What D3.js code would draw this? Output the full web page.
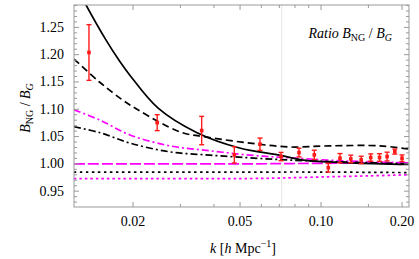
<!DOCTYPE html>
<html><head><meta charset="utf-8">
<script src="https://cdn.jsdelivr.net/npm/d3@7"></script>
<style>body{margin:0;background:#fff}svg{display:block}</style>
</head><body><svg id="c" width="419" height="259" font-family="'Liberation Serif','DejaVu Serif','Times New Roman',serif"></svg>
<script>
// ---- data ----
const solidK   = [0.0115, 0.01207, 0.01338, 0.0158, 0.0179, 0.0195, 0.0248, 0.0346, 0.0498, 0.0698, 0.0858, 0.128, 0.212];
const solidR   = [1.36, 1.333, 1.291, 1.2285, 1.187, 1.162, 1.102, 1.057, 1.029, 1.016, 1.007, 1.002, 0.999];
const dashK    = [0.01207, 0.0150, 0.0183, 0.0207, 0.0299, 0.0377, 0.0544, 0.0766, 0.108, 0.166, 0.2123];
const dashR    = [1.192, 1.150, 1.117, 1.100, 1.0585, 1.049, 1.038, 1.031, 1.033, 1.033, 1.027];
const ddotK    = [0.01207, 0.0151, 0.0195, 0.0274, 0.0386, 0.0544, 0.0766, 0.128, 0.2123];
const ddotR    = [1.068, 1.057, 1.038, 1.022, 1.016, 1.011, 1.007, 1.003, 1.000];
const mDdK     = [0.01207, 0.0151, 0.0195, 0.0274, 0.0386, 0.0544, 0.0766, 0.128, 0.2123];
const mDdR     = [1.099, 1.080, 1.053, 1.033, 1.024, 1.016, 1.011, 1.005, 1.002];
const mDashK   = [0.01207, 0.05, 0.1, 0.2123];
const mDashR   = [1.000, 1.000, 1.001, 1.002];
const dotK     = [0.01207, 0.05, 0.1, 0.2123];
const dotR     = [0.985, 0.985, 0.985, 0.984];
const mDotK    = [0.01207, 0.05, 0.07, 0.1, 0.15, 0.2123];
const mDotR    = [0.973, 0.973, 0.974, 0.976, 0.978, 0.980];
const ptK   = [0.01372, 0.0246, 0.036, 0.0476, 0.0593, 0.071, 0.0828, 0.0944, 0.1064, 0.1176, 0.129, 0.141, 0.153, 0.165, 0.176, 0.188, 0.200];
const ptR   = [1.204, 1.0755, 1.061, 1.0165, 1.036, 1.0134, 1.0207, 1.0165, 0.993, 1.0104, 1.009, 1.0073, 1.0116, 1.0116, 1.0134, 1.0225, 1.0104];
const ptErr = [0.051, 0.0146, 0.026, 0.0149, 0.0113, 0.0076, 0.008, 0.0085, 0.008, 0.0085, 0.007, 0.0067, 0.0067, 0.007, 0.008, 0.0046, 0.006];
const xMajor = [0.02, 0.05, 0.1, 0.2];
const xMajorLabels = ["0.02", "0.05", "0.10", "0.20"];
const xMinor = [0.03, 0.04, 0.06, 0.07, 0.08, 0.09, 0.15];
const yMajor = [0.95, 1.00, 1.05, 1.10, 1.15, 1.20, 1.25];
const yMajorLabels = ["0.95", "1.00", "1.05", "1.10", "1.15", "1.20", "1.25"];
const kMarker = 0.0714;

// ---- layout ----
const L = 74, R = 409, T = 5, B = 207;
const svg = d3.select("#c");
const x = d3.scaleLog().domain([0.01207, 0.2123]).range([L, R]);
const y = d3.scaleLinear().domain([0.921, 1.291]).range([B, T]);

svg.append("defs").append("clipPath").attr("id","clip")
  .append("rect").attr("x",L).attr("y",T).attr("width",R-L).attr("height",B-T);

svg.append("line").attr("x1",x(kMarker)).attr("x2",x(kMarker)).attr("y1",T).attr("y2",B)
  .attr("stroke","#e6e6e6").attr("stroke-width",1);

const g = svg.append("g").attr("clip-path","url(#clip)");
const line = d3.line().x(d=>x(d[0])).y(d=>y(d[1])).curve(d3.curveCatmullRom.alpha(0.5));
function curve(ks, rs, color, dash, w){
  g.append("path").datum(ks.map((k,i)=>[k, rs[i]])).attr("d", line)
    .attr("fill","none").attr("stroke",color).attr("stroke-width",w)
    .attr("stroke-dasharray",dash);
}
const MAG = "#ff00ff";
curve(mDotK, mDotR, MAG, "2.5,3", 1.7);
curve(dotK, dotR, "#000", "2.5,3.5", 1.7);
curve(mDashK, mDashR, MAG, "11,3", 1.7);
curve(mDdK, mDdR, MAG, "7,3,2,3", 1.7);
curve(ddotK, ddotR, "#000", "7,3,2,3", 1.7);
curve(dashK, dashR, "#000", "7,4", 1.7);
curve(solidK, solidR, "#000", null, 1.7);

const RED = "#ff1a1a";
const eb = g.append("g").attr("stroke",RED).attr("stroke-width",1.4);
ptK.forEach((k,i)=>{
  const cx = x(k), y1 = y(ptR[i]+ptErr[i]), y2 = y(ptR[i]-ptErr[i]);
  eb.append("line").attr("x1",cx).attr("x2",cx).attr("y1",y1).attr("y2",y2);
  eb.append("line").attr("x1",cx-2.5).attr("x2",cx+2.5).attr("y1",y1).attr("y2",y1);
  eb.append("line").attr("x1",cx-2.5).attr("x2",cx+2.5).attr("y1",y2).attr("y2",y2);
  g.append("rect").attr("x",cx-1.8).attr("y",y(ptR[i])-1.8).attr("width",3.6).attr("height",3.6)
    .attr("fill",RED);
});

const FR = "#999";
svg.append("rect").attr("x",L).attr("y",T).attr("width",R-L).attr("height",B-T)
  .attr("fill","none").attr("stroke",FR).attr("stroke-width",1);

const tk = svg.append("g").attr("stroke",FR).attr("stroke-width",1);
xMajor.forEach(k=>{
  const px = x(k);
  tk.append("line").attr("x1",px).attr("x2",px).attr("y1",B).attr("y2",B-5);
  tk.append("line").attr("x1",px).attr("x2",px).attr("y1",T).attr("y2",T+5);
});
xMinor.forEach(k=>{
  const px = x(k);
  tk.append("line").attr("x1",px).attr("x2",px).attr("y1",B).attr("y2",B-3);
  tk.append("line").attr("x1",px).attr("x2",px).attr("y1",T).attr("y2",T+3);
});
d3.range(0.93, 1.291, 0.01).forEach(v=>{
  const r = Math.round(v*100)/100;
  const major = Math.abs(r*20 - Math.round(r*20)) < 1e-6;
  const len = major ? 5 : 3, py = y(r);
  tk.append("line").attr("x1",L).attr("x2",L+len).attr("y1",py).attr("y2",py);
  tk.append("line").attr("x1",R).attr("x2",R-len).attr("y1",py).attr("y2",py);
});

xMajor.forEach((k,i)=>{
  svg.append("text").attr("x",x(k)).attr("y",226).attr("text-anchor","middle")
    .attr("font-size",14).text(xMajorLabels[i]);
});
yMajor.forEach((v,i)=>{
  svg.append("text").attr("x",64).attr("y",y(v)+4.5).attr("text-anchor","end")
    .attr("font-size",14).text(yMajorLabels[i]);
});

const xt = svg.append("text").attr("x",243).attr("y",253).attr("text-anchor","middle").attr("font-size",14);
xt.append("tspan").attr("font-style","italic").text("k");
xt.append("tspan").text(" [");
xt.append("tspan").attr("font-style","italic").text("h");
xt.append("tspan").text(" Mpc");
xt.append("tspan").attr("font-size",10).attr("dy",-6).text("\u22121");
xt.append("tspan").attr("dy",6).text("]");

const yt = svg.append("text").attr("transform","translate(30,108) rotate(-90)").attr("text-anchor","middle").attr("font-size",14);
yt.append("tspan").attr("font-style","italic").text("B");
yt.append("tspan").attr("font-size",10).attr("dy",3).text("NG");
yt.append("tspan").attr("dy",-3).text(" / ");
yt.append("tspan").attr("font-style","italic").text("B");
yt.append("tspan").attr("font-size",10).attr("dy",3).attr("font-style","italic").text("G");

const it = svg.append("text").attr("x",392).attr("y",38).attr("text-anchor","end").attr("font-size",14);
it.append("tspan").attr("font-style","italic").text("Ratio B");
it.append("tspan").attr("font-size",10).attr("dy",3).text("NG");
it.append("tspan").attr("dy",-3).text(" / ");
it.append("tspan").attr("font-style","italic").text("B");
it.append("tspan").attr("font-size",10).attr("dy",3).attr("font-style","italic").text("G");
</script></body></html>
